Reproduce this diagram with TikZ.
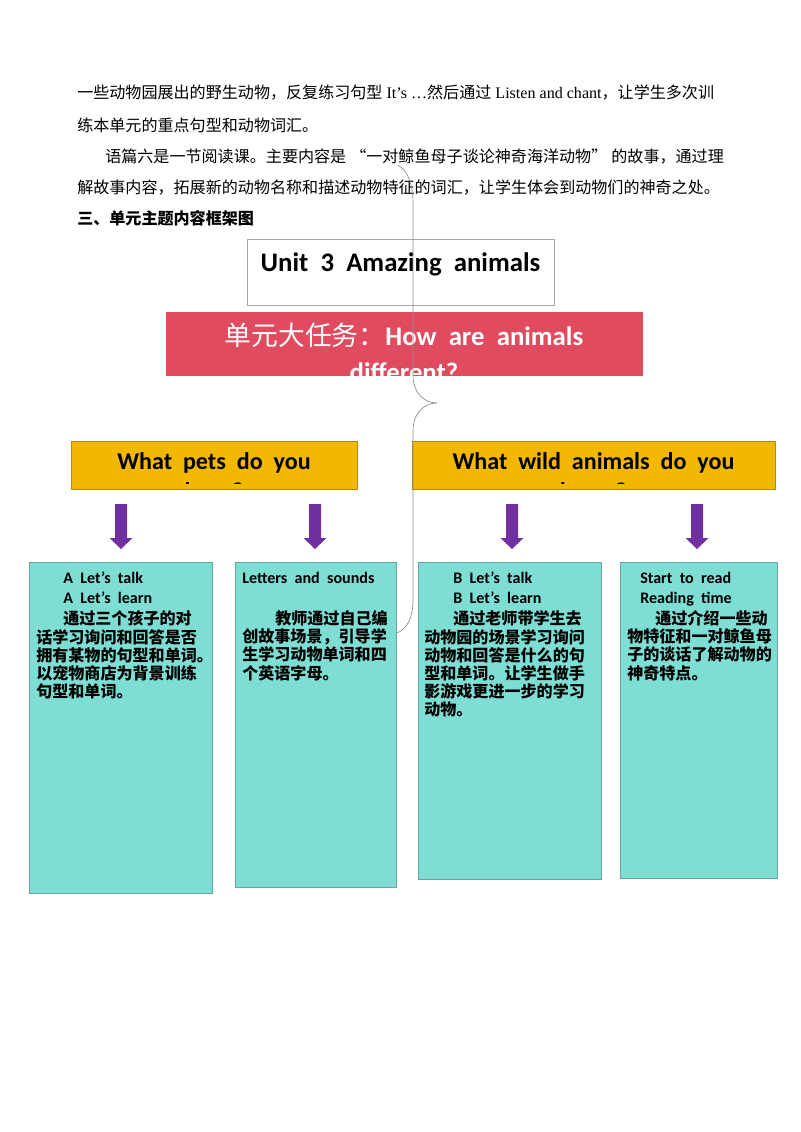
\documentclass[tikz,border=0pt]{standalone}
\usepackage{fontspec}
\setmainfont{Liberation Serif}
\setsansfont{Carlito}
\newfontfamily\cjk{Noto Sans CJK SC}
\usetikzlibrary{calc}
\newdimen\pxlen \pxlen=0.2625mm
\definecolor{taskred}{RGB}{225,75,95}
\definecolor{askyellow}{RGB}{242,184,0}
\definecolor{cardteal}{RGB}{127,222,212}
\definecolor{cardedge}{RGB}{105,165,160}
\definecolor{arrowpurple}{RGB}{112,48,160}
\def\fatarrow(#1,#2){\fill[arrowpurple] ($(#1,#2)+(-6,0)$) -- ++(12,0) -- ++(0,34) -- ++(5.5,0) -- ++(-11.5,11) -- ++(-11.5,-11) -- ++(5.5,0) -- cycle;}

\begin{document}
\begin{tikzpicture}[x=0.2625mm, y=-0.2625mm,
	paraline/.style={anchor=west, inner sep=0pt, font=\fontsize{12}{14}\selectfont},
	titletext/.style={anchor=base, inner sep=0pt, font=\sffamily\bfseries\fontsize{20}{24}\selectfont},
	tasktext/.style={anchor=base, inner sep=0pt, text=white, font=\sffamily\bfseries\fontsize{20}{24}\selectfont},
	asktext/.style={anchor=base, inner sep=0pt, font=\sffamily\bfseries\fontsize{18}{21}\selectfont},
	cardtext/.style={anchor=north west, inner sep=0pt, align=left, font=\sffamily\bfseries\fontsize{12}{13.6}\selectfont},
	card/.style={line width=0.5pt, draw=cardedge, fill=cardteal}]
		%%%%% START %%%%%
		
		\fill[white] (0,0) rectangle (800,1132);
		\useasboundingbox (0,0) rectangle (800,1132);
		
		\node[paraline] (para1) at (77,93) {\cjk 一些动物园展出的野生动物，反复练习句型{\rmfamily\ It’s …}然后通过{\rmfamily\ Listen and chant}，让学生多次训};
		\node[paraline] (para2) at (77,125) {\cjk 练本单元的重点句型和动物词汇。};
		\node[paraline] (para3) at (105,157) {\cjk 语篇六是一节阅读课。主要内容是\kern0.25em“一对鲸鱼母子谈论神奇海洋动物”\kern0.25em 的故事，通过理};
		\node[paraline] (para4) at (77,188) {\cjk 解故事内容，拓展新的动物名称和描述动物特征的词汇，让学生体会到动物们的神奇之处。};
		\node[paraline, font=\fontsize{12}{14}\selectfont\bfseries] (heading) at (77,218) {\cjk 三、单元主题内容框架图};
		
		\draw[line width=0.5pt, draw=black!35, fill=white] (247,239) rectangle (554,305);
		\node[titletext] (unit) at (400.5,271) {Unit~~3~~Amazing~~animals};
		
		\begin{scope}
			\clip (166,312) rectangle (643,376);
			\fill[taskred] (166,312) rectangle (643,376);
			\node[tasktext] (task) at (404,345) {{\cjk\mdseries 单元大任务：}How~~are~~animals};
			\node[tasktext] (taskb) at (404,381) {different?};
		\end{scope}
		
		\draw[line width=0.4pt, draw=askyellow!75!black, fill=askyellow] (71,441) rectangle (357,489);
		\draw[line width=0.4pt, draw=askyellow!75!black, fill=askyellow] (412,441) rectangle (775,489);
		\begin{scope}
			\clip (71,441) rectangle (775,483);
			\node[asktext] (pets) at (214,469) {What~~pets~~do~~you};
			\node[asktext] (petsb) at (214,499) {have?};
			\node[asktext] (wild) at (593.5,469) {What~~wild~~animals~~do~~you};
			\node[asktext] (wildb) at (593.5,499) {know?};
		\end{scope}
		
		\fatarrow(121,504)
		\fatarrow(315,504)
		\fatarrow(512,504)
		\fatarrow(697,504)
		
		\draw[card] (29,562) rectangle (212,893);
		\draw[card] (235,562) rectangle (396,887);
		\draw[card] (418,562) rectangle (601,879);
		\draw[card] (620,562) rectangle (777,878);
		
		\node[cardtext] (talkA) at (36,572) {\hspace*{27\pxlen}A~~Let’s~~talk\\[1.3pt]
			\hspace*{27\pxlen}A~~Let’s~~learn\\[2pt]
			\hspace*{27\pxlen}{\cjk 通过三个孩子的对}\\
			{\cjk 话学习询问和回答是否}\\
			{\cjk 拥有某物的句型和单词。}\\
			{\cjk 以宠物商店为背景训练}\\
			{\cjk 句型和单词。}};
		\node[cardtext] (letters) at (242,572) {Letters~~and~~sounds\\[1.3pt]
			\mbox{}\\[2pt]
			\hspace*{33\pxlen}{\cjk 教师通过自己编}\\
			{\cjk 创故事场景，引导学}\\
			{\cjk 生学习动物单词和四}\\
			{\cjk 个英语字母。}};
		\node[cardtext] (talkB) at (424,572) {\hspace*{29\pxlen}B~~Let’s~~talk\\[1.3pt]
			\hspace*{29\pxlen}B~~Let’s~~learn\\[2pt]
			\hspace*{29\pxlen}{\cjk 通过老师带学生去}\\
			{\cjk 动物园的场景学习询问}\\
			{\cjk 动物和回答是什么的句}\\
			{\cjk 型和单词。让学生做手}\\
			{\cjk 影游戏更进一步的学习}\\
			{\cjk 动物。}};
		\node[cardtext] (reading) at (627,572) {\hspace*{13\pxlen}Start~~to~~read\\[1.3pt]
			\hspace*{13\pxlen}Reading~~time\\[2pt]
			\hspace*{28\pxlen}{\cjk 通过介绍一些动}\\
			{\cjk 物特征和一对鲸鱼母}\\
			{\cjk 子的谈话了解动物的}\\
			{\cjk 神奇特点。}};
		
		\draw[line width=0.5pt, color=black!45] (398,165) .. controls (409,172) and (413,185) .. (413,205) -- (413,375) .. controls (413,393) and (424,403) .. (437,403) .. controls (424,403) and (413,413) .. (413,431) -- (413,600) .. controls (413,618) and (407,629) .. (397,633);
		
		%%%%% END %%%%%
	\end{tikzpicture}
\end{document}
